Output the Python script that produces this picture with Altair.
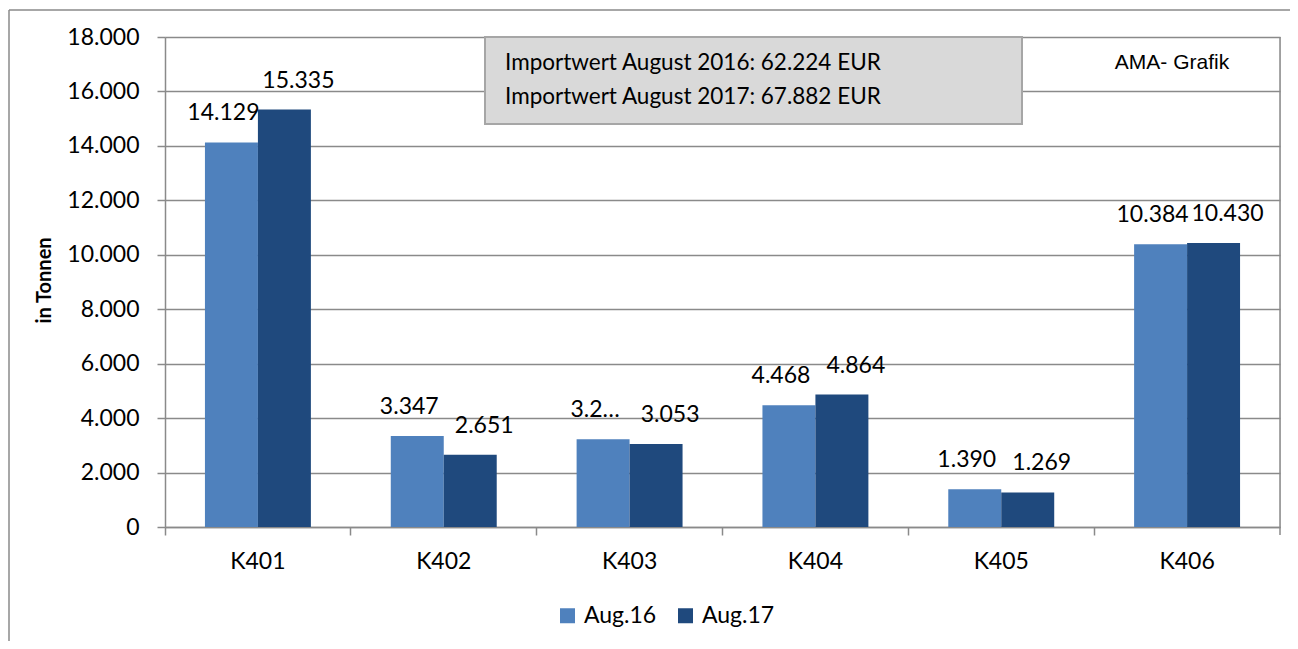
import altair as alt
import pandas as pd

categories = ["K401", "K402", "K403", "K404", "K405", "K406"]
series = ["Aug.16", "Aug.17"]
values_16 = [14129, 3347, 3225, 4468, 1390, 10384]
values_17 = [15335, 2651, 3053, 4864, 1269, 10430]
labels_16 = ["14.129", "3.347", "3.2…", "4.468", "1.390", "10.384"]
labels_17 = ["15.335", "2.651", "3.053", "4.864", "1.269", "10.430"]
y_ticks = [0, 2000, 4000, 6000, 8000, 10000, 12000, 14000, 16000, 18000]
info_lines = ["Importwert August 2016: 62.224 EUR", "Importwert August 2017: 67.882 EUR"]
source_note = "AMA- Grafik"
y_title = "in Tonnen"
colors = ["#4F81BD", "#1F497D"]

rows = []
for c, v, l in zip(categories, values_16, labels_16):
    rows.append({"cat": c, "series": series[0], "value": v, "label": l})
for c, v, l in zip(categories, values_17, labels_17):
    rows.append({"cat": c, "series": series[1], "value": v, "label": l})
df = pd.DataFrame(rows)

W, H = 1115, 490
GRID = "#8A8A8A"
FONT = "Lato"

x_enc = alt.X("cat:N", sort=categories, title=None,
              scale=alt.Scale(paddingInner=0, paddingOuter=0),
              axis=alt.Axis(bandPosition=0, labelFont=FONT, labelFontSize=23, labelColor="#000",
                            labelPadding=15, tickSize=8, tickColor=GRID, tickWidth=1.5,
                            domainColor=GRID, domainWidth=1.5, labelAngle=0, grid=False))
xoff_enc = alt.XOffset("series:N", sort=series,
                       scale=alt.Scale(paddingInner=0, paddingOuter=0.754))
y_enc = alt.Y("value:Q", scale=alt.Scale(domain=[0, 18000], nice=False),
              axis=alt.Axis(values=y_ticks, title=y_title,
                            labelExpr="replace(format(datum.value, ','), ',', '.')",
                            labelFont=FONT, labelFontSize=23, labelColor="#000", labelPadding=18,
                            tickSize=8, tickColor=GRID, tickWidth=1.5,
                            domainColor=GRID, domainWidth=1.5,
                            gridColor=GRID, gridWidth=1.5,
                            titleFont=FONT, titleFontSize=20, titleFontWeight="bold", titleColor="#000",
                            titleX=-121, titleY=H / 2 - 2, titleAngle=270,
                            titleAlign="center", titleBaseline="middle"))
color_enc = alt.Color("series:N", sort=series,
                      scale=alt.Scale(domain=series, range=colors),
                      legend=alt.Legend(title=None, orient="none", direction="horizontal",
                                        legendX=391, legendY=567, padding=0,
                                        symbolType="square", symbolSize=225, symbolStrokeWidth=0,
                                        labelFont=FONT, labelFontSize=23, labelColor="#000",
                                        labelOffset=5, columnPadding=17))

base = alt.Chart(df)
bars = base.mark_bar().encode(x=x_enc, xOffset=xoff_enc, y=y_enc, color=color_enc)


def label_layer(name, dx):
    return base.transform_filter(alt.datum.series == name).mark_text(
        font=FONT, fontSize=23, color="#000", baseline="middle", dy=-29, dx=dx).encode(
        x=alt.X("cat:N", sort=categories), xOffset=alt.XOffset("series:N", sort=series),
        y="value:Q", text="label:N")


texts16 = label_layer(series[0], -8)
texts17 = label_layer(series[1], 14)

one = pd.DataFrame({"k": [0]})
right_edge = alt.Chart(one).mark_rule(color=GRID, strokeWidth=1.5).encode(
    x=alt.value(W), y=alt.value(0), y2=alt.value(H + 8))
frame_left = alt.Chart(one).mark_rule(color=GRID, strokeWidth=1.5).encode(
    x=alt.value(-156), y=alt.value(-27), y2=alt.value(640))
frame_top = alt.Chart(one).mark_rule(color=GRID, strokeWidth=1.5).encode(
    x=alt.value(-156), x2=alt.value(1200), y=alt.value(-27))
box = alt.Chart(one).mark_rect(fill="#D9D9D9", stroke="#A6A6A6", strokeWidth=2).encode(
    x=alt.value(320), x2=alt.value(857), y=alt.value(0), y2=alt.value(87))
line1 = alt.Chart(pd.DataFrame({"t": [info_lines[0]]})).mark_text(
    font=FONT, fontSize=22.5, color="#000", align="left", baseline="middle").encode(
    x=alt.value(340), y=alt.value(26), text="t:N")
line2 = alt.Chart(pd.DataFrame({"t": [info_lines[1]]})).mark_text(
    font=FONT, fontSize=22.5, color="#000", align="left", baseline="middle").encode(
    x=alt.value(340), y=alt.value(60), text="t:N")
note = alt.Chart(pd.DataFrame({"t": [source_note]})).mark_text(
    font="Liberation Sans", fontSize=21, color="#000", align="center", baseline="middle").encode(
    x=alt.value(1007), y=alt.value(26), text="t:N")

chart = alt.layer(bars, texts16, texts17, right_edge, frame_left, frame_top, box, line1, line2, note).properties(
    width=W, height=H,
    autosize=alt.AutoSizeParams(type="none"),
    padding={"left": 157, "top": 29, "right": 10, "bottom": 114},
).configure_view(stroke=None).configure(background="white")

chart.save("out.html", embed_options={"renderer": "svg", "actions": False})
